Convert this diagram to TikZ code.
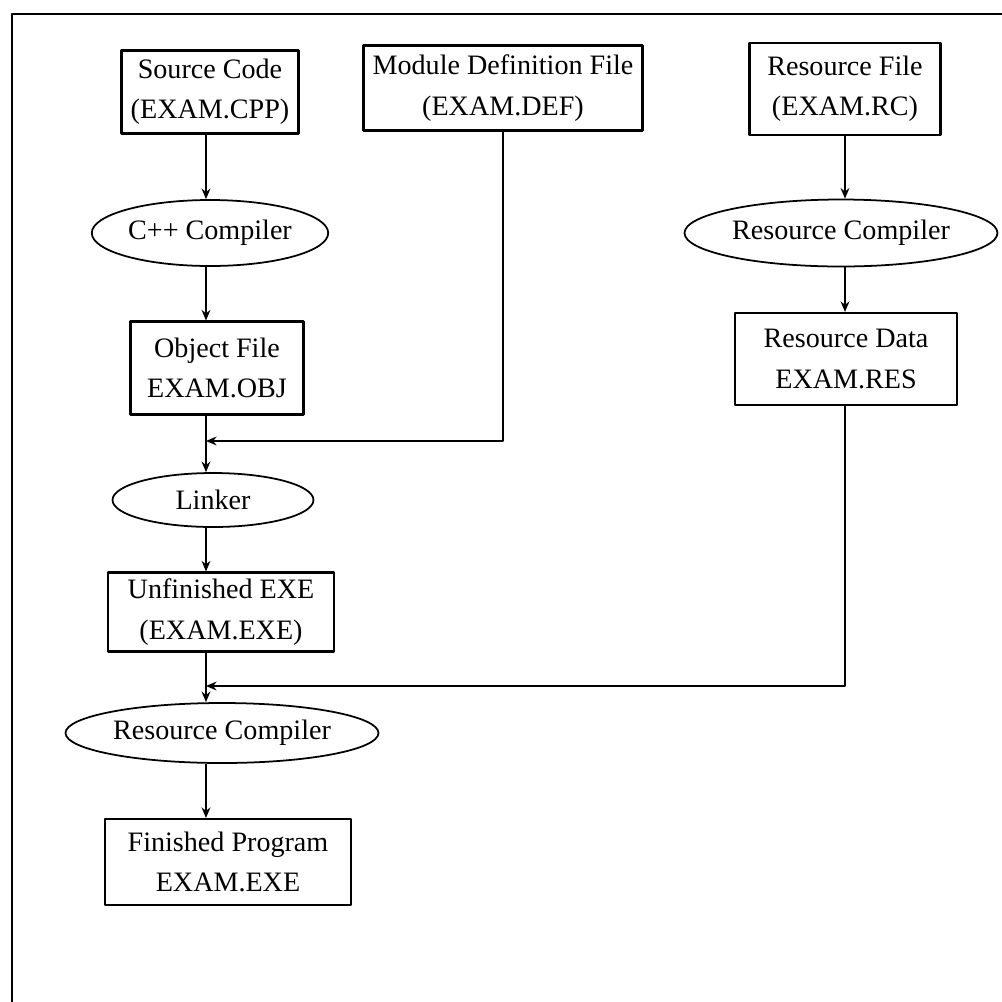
\documentclass[tikz,border=0pt]{standalone}
\usepackage{fontspec}
\setmainfont{Liberation Serif}
\usetikzlibrary{shapes.geometric,arrows.meta}
\tikzset{
	filebox/.style={draw,line width=1.2pt,align=center,inner sep=2pt},
	tool/.style={draw,ellipse,line width=1pt,align=center,inner sep=1pt},
	flow/.style={-{Stealth[length=6pt,width=5pt]},line width=1pt}
}
\begin{document}
\begin{tikzpicture}[x=0.02cm,y=-0.02cm,line join=round,font=\fontsize{16}{23}\selectfont]
	\useasboundingbox (0,0) rectangle (1002,1002);
	% frame
	\draw[line width=1.2pt] (12,1002)--(12,14)--(1002,14);
	
	\node[filebox,minimum width=3.54cm,minimum height=1.66cm] (src) at (210,92) {Source Code\\(EXAM.CPP)};
	\node[filebox,minimum width=5.58cm,minimum height=1.70cm] (mdef) at (503,88) {Module Definition File\\(EXAM.DEF)};
	\node[filebox,minimum width=3.82cm,minimum height=1.84cm] (rcfile) at (845,89) {Resource File\\(EXAM.RC)};
	\node[tool,minimum width=4.50cm,minimum height=1.32cm] (cppc) at (210,233) {C++ Compiler};
	\node[tool,minimum width=5.44cm,minimum height=1.34cm] (rcc) at (841,233) {Resource Compiler};
	\node[filebox,minimum width=3.46cm,minimum height=1.86cm] (obj) at (217,368) {Object File\\EXAM.OBJ};
	\node[filebox,minimum width=4.44cm,minimum height=1.84cm] (rdata) at (846,359) {Resource Data\\EXAM.RES};
	\node[tool,minimum width=4.02cm,minimum height=1.08cm] (linker) at (213,500) {Linker};
	\node[filebox,minimum width=4.52cm,minimum height=1.58cm] (unfin) at (221,612) {Unfinished EXE\\(EXAM.EXE)};
	\node[tool,minimum width=5.44cm,minimum height=1.20cm] (rcc2) at (222,733) {Resource Compiler};
	\node[filebox,minimum width=4.92cm,minimum height=1.72cm] (fin) at (228,862) {Finished Program\\EXAM.EXE};
	
	\coordinate (ax) at (206,0);
	\coordinate (j1) at (206,441);
	\coordinate (j2) at (206,686);
	
	\draw[flow] (src.south -| ax)--(cppc.north -| ax);
	\draw[flow] (cppc.south -| ax)--(obj.north -| ax);
	\draw[flow] (obj.south -| ax)--(linker.north -| ax);
	\draw[flow] (linker.south -| ax)--(unfin.north -| ax);
	\draw[flow] (unfin.south -| ax)--(rcc2.north -| ax);
	\draw[flow] (rcc2.south -| ax)--(fin.north -| ax);
	\draw[flow] (mdef.south)|-(j1);
	\draw[flow] (rcfile.south)--(rcfile.south |- rcc.north);
	\draw[flow] (rcc.south -| rcfile.south)--(rdata.north -| rcfile.south);
	\draw[flow] (rdata.south -| rcfile.south)|-(j2);
\end{tikzpicture}
\end{document}
